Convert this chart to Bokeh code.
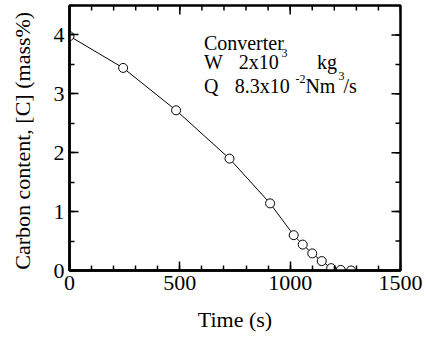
import numpy as np
from bokeh.plotting import figure
from bokeh.models import SingleIntervalTicker, Range1d, Label
from bokeh.embed import file_html
from bokeh.resources import INLINE

# Data
time_s = [0, 243, 483, 725, 909, 1016, 1057, 1100, 1143, 1186, 1229, 1276]
carbon = [3.98, 3.44, 2.72, 1.90, 1.14, 0.60, 0.44, 0.29, 0.16, 0.04, 0.01, 0.0]
x_max = 1500
y_max = 4.5
x_major_step = 500
x_minor_step = 100
y_major_step = 1
y_minor_step = 0.5

FONT = "Liberation Serif"

p = figure(width=426, height=338, output_backend="svg", toolbar_location=None,
           x_range=Range1d(0, x_max), y_range=Range1d(0, y_max),
           min_border_left=69, min_border_right=26, min_border_top=5, min_border_bottom=68,
           background_fill_color="white", border_fill_color="white")
p.outline_line_color = "black"
p.outline_line_width = 2.5
p.xgrid.visible = False
p.ygrid.visible = False

def style(ax):
    ax.axis_line_width = 2.5
    ax.axis_line_color = "black"
    ax.major_tick_in = 9
    ax.major_tick_out = 0
    ax.minor_tick_in = 5
    ax.minor_tick_out = 0
    ax.major_tick_line_width = 1.5
    ax.minor_tick_line_width = 1.5
    ax.major_tick_line_color = "black"
    ax.minor_tick_line_color = "black"
    ax.major_label_text_font = FONT
    ax.major_label_text_font_size = "22px"
    ax.major_label_text_color = "black"
    ax.axis_label_text_font = FONT
    ax.axis_label_text_font_size = "22px"
    ax.axis_label_text_font_style = "normal"
    ax.axis_label_text_color = "black"

xa = p.xaxis[0]
xa.ticker = SingleIntervalTicker(interval=x_major_step, num_minor_ticks=5)
xa.axis_label = "Time (s)"
style(xa)
xa.major_label_standoff = 5
xa.axis_label_standoff = 14

ya = p.yaxis[0]
ya.ticker = SingleIntervalTicker(interval=y_major_step, num_minor_ticks=2)
ya.axis_label = "Carbon content, [C]  (mass%)"
style(ya)
ya.major_label_standoff = 5
ya.axis_label_standoff = 16

# inward ticks on the top and right edges of the frame
x_major = np.arange(0, x_max + 1, x_major_step)
x_minor = np.arange(0, x_max + 1, x_minor_step)
y_major = np.arange(0, y_max + 0.01, y_major_step)
y_minor = np.arange(0, y_max + 0.01, y_minor_step)
p.ray(x=x_minor, y=y_max, length=5, length_units="screen", angle=-np.pi / 2,
      line_color="black", line_width=1.5)
p.ray(x=x_major, y=y_max, length=9, length_units="screen", angle=-np.pi / 2,
      line_color="black", line_width=1.5)
p.ray(x=x_max, y=y_minor, length=5, length_units="screen", angle=np.pi,
      line_color="black", line_width=1.5)
p.ray(x=x_max, y=y_major, length=9, length_units="screen", angle=np.pi,
      line_color="black", line_width=1.5)

p.line(time_s, carbon, line_color="black", line_width=1)
p.scatter(time_s, carbon, size=9, fill_color="white", line_color="black", line_width=1)

def lab(x, y, t, size="20px"):
    p.add_layout(Label(x=x, y=y, text=t, text_font=FONT, text_font_size=size,
                       text_color="black", text_baseline="alphabetic", text_align="left"))

lab(609, 3.86, "Converter")
lab(609, 3.54, "W")
lab(767, 3.54, "2x10")
lab(961, 3.685, "3", "12px")
lab(1122, 3.54, "kg")
lab(609, 3.133, "Q")
lab(749, 3.133, "8.3x10")
lab(1024, 3.26, "-2", "12px")
lab(1069, 3.133, "Nm")
lab(1219, 3.31, "3", "12px")
lab(1242, 3.133, "/s")

open("out.html", "w").write(file_html(p, INLINE))
